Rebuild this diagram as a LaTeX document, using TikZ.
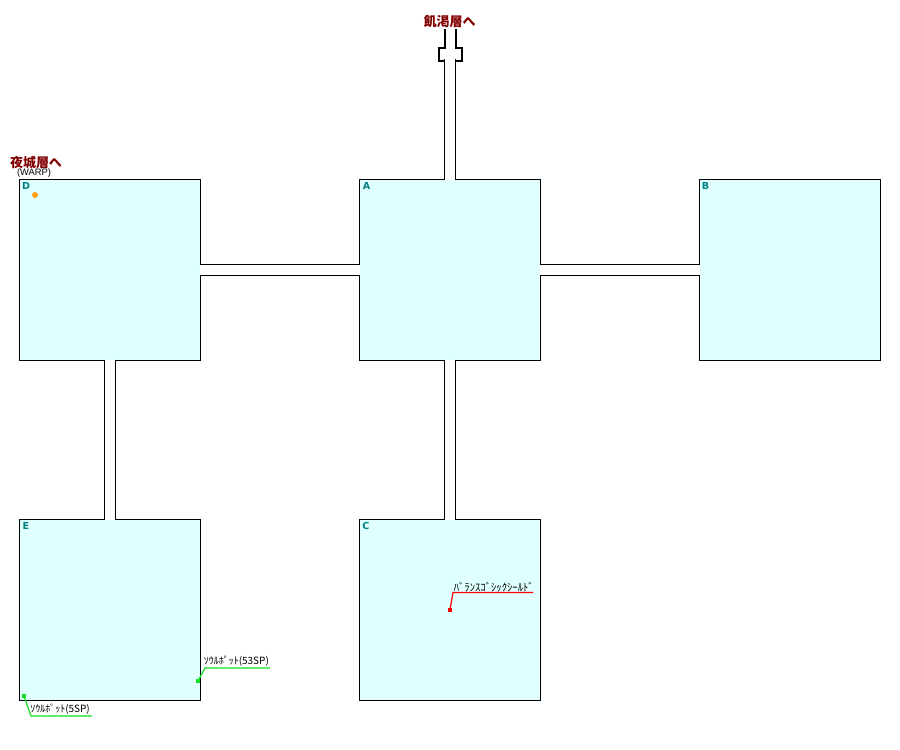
\documentclass[tikz,border=0pt]{standalone}
\usepackage{fontspec}
\setmainfont{Liberation Sans}
\newfontfamily\jpfont{Noto Sans CJK JP}
\newfontfamily\tagfont{DejaVu Sans}
\usetikzlibrary{positioning}
\definecolor{roomfill}{HTML}{E0FFFF}
\definecolor{roomtag}{HTML}{008080}
\definecolor{gatetext}{HTML}{800000}
\definecolor{soulgreen}{HTML}{10E020}
\definecolor{itemred}{HTML}{FF0000}
\definecolor{warporange}{HTML}{FFA010}
\tikzset{
  room/.style={draw,fill=roomfill,line width=0.75pt,minimum size=135.4pt,inner sep=0pt,outer sep=0pt},
  corridor/.style={line width=0.75pt,double=white,double distance=7.5pt,shorten <=-0.5pt,shorten >=-0.5pt},
  wall/.style={line width=1.5pt,miter limit=4},
  tag/.style={text=roomtag,font=\tagfont\fontsize{7.2pt}{8pt}\selectfont\bfseries,inner sep=0pt},
  gate/.style={text=gatetext,font=\jpfont\fontsize{9.75pt}{10pt}\selectfont\bfseries,inner sep=0pt},
  note/.style={font=\jpfont\fontsize{7.5pt}{8pt}\selectfont,inner sep=0pt,anchor=south west},
  leader/.style={line width=0.9pt}
}
\begin{document}
\begin{tikzpicture}[x=0.75pt,y=-0.75pt]
%%
  \useasboundingbox (0,0) rectangle (900,750);
  \node (A) at (450,270) [room] {};
  \node (B) at (790,270) [room] {};
  \node (C) at (450,610) [room] {};
  \node (D) at (110,270) [room] {};
  \node (E) at (110,610) [room] {};
  \coordinate (neck) at (450,60);
%%
  \draw [corridor] (D.east) -- (A.west);
  \draw [corridor] (A.east) -- (B.west);
  \draw [corridor] (D.south) -- (E.north);
  \draw [corridor] (A.south) -- (C.north);
  \draw [corridor] (A.north) -- (neck);
%%
  \coordinate (wl1) at (444.5,29);
  \coordinate (wl2) at (444.5,48);
  \coordinate (wl3) at (439,48);
  \coordinate (wl4) at (439,60.5);
  \coordinate (wl5) at (445,60.5);
  \coordinate (wr1) at (456,29);
  \coordinate (wr2) at (456,48);
  \coordinate (wr3) at (461.5,48);
  \coordinate (wr4) at (461.5,60.5);
  \coordinate (wr5) at (455,60.5);
  \draw [wall] (wl1) -- (wl2) -- (wl3) -- (wl4) -- (wl5);
  \draw [wall] (wr1) -- (wr2) -- (wr3) -- (wr4) -- (wr5);
%%
  \node (tagA) at (366.5,186) [tag] {A};
  \node (tagB) at (705.5,186) [tag] {B};
  \node (tagC) at (366,526) [tag] {C};
  \node (tagD) at (26,186) [tag] {D};
  \node (tagE) at (26,526) [tag] {E};
%%
  \node (toA) at (449.5,22) [gate] {飢渇層へ};
  \node (toD) at (36,163) [gate] {夜城層へ};
  \node (warp) at (34,173) [font=\fontsize{7pt}{8pt}\selectfont,inner sep=0pt] {(WARP)};
  \node (warpdot) at (35,195) [circle,fill=warporange,minimum size=4.5pt,inner sep=0pt] {};
%%
  \node (shield) at (450,609.5) [fill=itemred,minimum size=3pt,inner sep=0pt] {};
  \node (pot53) at (198,681) [fill=soulgreen,minimum size=3.4pt,inner sep=0pt] {};
  \node (pot5) at (24,696) [fill=soulgreen,minimum size=3.4pt,inner sep=0pt] {};
  \coordinate (s1) at (453,592.5);
  \coordinate (s2) at (533,592.5);
  \coordinate (p1) at (205,668);
  \coordinate (p2) at (270,668);
  \coordinate (q1) at (31,716);
  \coordinate (q2) at (92,716);
  \draw [leader,itemred] (shield.center) -- (s1) -- (s2);
  \draw [leader,soulgreen] (pot53.center) -- (p1) -- (p2);
  \draw [leader,soulgreen] (pot5.center) -- (q1) -- (q2);
  \node (shieldtext) at (453.5,592) [note,font=\jpfont\fontsize{8pt}{8pt}\selectfont] {ﾊﾞﾗﾝｽｺﾞｼｯｸｼｰﾙﾄﾞ};
  \node (pot53text) at (203.5,667) [note] {ｿｳﾙﾎﾟｯﾄ(53SP)};
  \node (pot5text) at (30,714.5) [note] {ｿｳﾙﾎﾟｯﾄ(5SP)};
%
\end{tikzpicture}
\end{document}
